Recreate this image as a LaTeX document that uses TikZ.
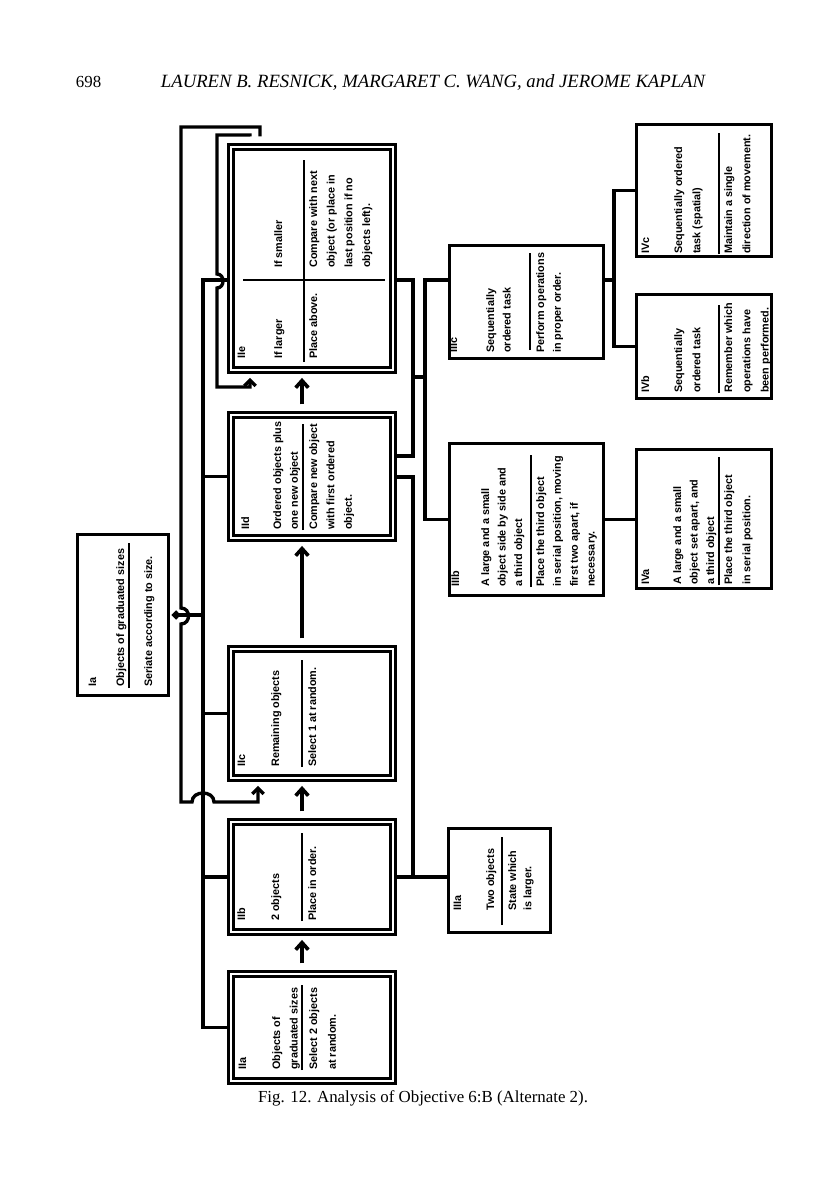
\documentclass[tikz,border=0pt]{standalone}
\usepackage{fontspec}
\setmainfont{Liberation Serif}
\setsansfont{Liberation Sans}
\usetikzlibrary{arrows.meta,fit}

% lines of box text, #1 = line distance
\newcommand{\lns}[2]{{\fontsize{7.7}{#1}\selectfont\begin{tabular}[t]{@{}l@{}}#2\end{tabular}}}

\tikzset{
  dbox/.style={draw, double, line width=2pt, double distance=1.4pt, inner sep=0pt},
  sbox/.style={draw, line width=2.2pt, inner sep=0pt},
  conn/.style={line width=2.4pt},
  arr/.style={line width=2.6pt, -{Straight Barb[length=5pt,width=9pt]}, shorten <=6.5pt, shorten >=4.5pt},
  looparr/.style={conn, -{Straight Barb[length=4pt,width=8pt]}},
  txt/.style={rotate=90, anchor=base west, inner sep=0pt, font=\sffamily\bfseries\fontsize{7.7}{10}\selectfont},
  rl/.style={line width=1.5pt},
}

\begin{document}
\begin{tikzpicture}[x=0.025cm, y=-0.025cm]
  \useasboundingbox (0,0) rectangle (816,1195);

  % header and caption
  \node[anchor=base west, font=\fontsize{12}{14}\selectfont] (pgno) at (71,88) {698};
  \node[anchor=base west, font=\fontsize{13.3}{15}\selectfont\itshape] (auth) at (156,88)
    {LAUREN B. RESNICK, MARGARET C. WANG, and JEROME KAPLAN};
  \node[anchor=base, font=\fontsize{12}{14}\selectfont] (capt) at (423,1102)
    {Fig. 12. Analysis of Objective 6:B (Alternate 2).};

  % boxes
  \node[sbox, fit={(77.5,534.5) (168.5,695.5)}] (ia) {};
  \node[dbox, fit={(230.8,973.8) (393.2,1081.2)}] (iia) {};
  \node[dbox, fit={(230.8,821.8) (393.2,932.2)}] (iib) {};
  \node[dbox, fit={(230.8,648.8) (393.2,778.2)}] (iic) {};
  \node[dbox, fit={(230.8,414.8) (393.2,538.2)}] (iid) {};
  \node[dbox, fit={(230.8,146.8) (393.2,370.2)}] (iie) {};
  \node[sbox, fit={(448.5,828.5) (550.5,932.5)}] (iiia) {};
  \node[sbox, fit={(449.5,443.5) (603.5,595.5)}] (iiib) {};
  \node[sbox, fit={(449.5,245.5) (603.5,358.5)}] (iiic) {};
  \node[sbox, fit={(636.5,449.5) (771.5,588.5)}] (iva) {};
  \node[sbox, fit={(636.5,294.5) (771.5,398.5)}] (ivb) {};
  \node[sbox, fit={(636.5,124.5) (771.5,256.5)}] (ivc) {};

  % Ia
  \node[txt] (ia-l) at (96,687) {Ia};
  \node[txt] (ia-g) at (124,687) {Objects of graduated sizes};
  \draw[rl] (129,688) -- (129,543);
  \node[txt] (ia-t) at (152,687) {Seriate according to size.};

  % IIa
  \node[txt] (iia-l) at (246,1070) {IIa};
  \node[txt] (iia-g) at (280,1070) {\lns{12.6}{Objects of\\graduated sizes}};
  \draw[rl] (302,1070) -- (302,985);
  \node[txt] (iia-t) at (317,1070) {\lns{13.4}{Select 2 objects\\at random.}};

  % IIb
  \node[txt] (iib-l) at (245,921) {IIb};
  \node[txt] (iib-g) at (279,921) {2 objects};
  \draw[rl] (302,921) -- (302,833);
  \node[txt] (iib-t) at (316,921) {Place in order.};

  % IIc
  \node[txt] (iic-l) at (245,767) {IIc};
  \node[txt] (iic-g) at (279,767) {Remaining objects};
  \draw[rl] (302,767) -- (302,660);
  \node[txt] (iic-t) at (316,767) {Select 1 at random.};

  % IId
  \node[txt] (iid-l) at (249,530) {IId};
  \node[txt] (iid-g) at (281,530) {\lns{12}{Ordered objects plus\\one new object}};
  \draw[rl] (303,530) -- (303,424);
  \node[txt] (iid-t) at (317,530) {\lns{12.4}{Compare new object\\with first ordered\\object.}};

  % IIe
  \node[txt] (iie-l) at (245,359) {IIe};
  \node[txt] (iie-a) at (282,359) {If larger};
  \node[txt] (iie-b) at (282,268) {If smaller};
  \draw[rl] (304,362) -- (304,160);
  \draw[rl] (243,280) -- (385,280);
  \node[txt] (iie-c) at (317,359) {Place above.};
  \node[txt] (iie-d) at (317,268) {\lns{12.6}{Compare with next\\object (or place in\\last position if no\\objects left).}};

  % IIIa
  \node[txt] (iiia-l) at (461,911) {IIIa};
  \node[txt] (iiia-g) at (494,911) {Two objects};
  \draw[rl] (502,925) -- (502,837);
  \node[txt] (iiia-t) at (516,911) {\lns{11}{State which\\is larger.}};

  % IIIb
  \node[txt] (iiib-l) at (459,587) {IIIb};
  \node[txt] (iiib-g) at (489,587) {\lns{11.8}{A large and a small\\object side by side and\\a third object}};
  \draw[rl] (531,587) -- (531,455);
  \node[txt] (iiib-t) at (544,587) {\lns{12}{Place the third object\\in serial position, moving\\first two apart, if\\necessary.}};

  % IIIc
  \node[txt] (iiic-l) at (457,353) {IIIc};
  \node[txt] (iiic-g) at (494,353) {\lns{11.8}{Sequentially\\ordered task}};
  \draw[rl] (530,350) -- (530,253);
  \node[txt] (iiic-t) at (544,353) {\lns{12}{Perform operations\\in proper order.}};

  % IVa
  \node[txt] (iva-l) at (649,585) {IVa};
  \node[txt] (iva-g) at (681,585) {\lns{11.8}{A large and a small\\object set apart, and\\a third object}};
  \draw[rl] (719,585) -- (719,457);
  \node[txt] (iva-t) at (732,585) {\lns{13}{Place the third object\\in serial position.}};

  % IVb
  \node[txt] (ivb-l) at (649,393) {IVb};
  \node[txt] (ivb-g) at (682,393) {\lns{13}{Sequentially\\ordered task}};
  \draw[rl] (719,393) -- (719,305);
  \node[txt] (ivb-t) at (732,393) {\lns{13}{Remember which\\operations have\\been performed.}};

  % IVc
  \node[txt] (ivc-l) at (649,254) {IVc};
  \node[txt] (ivc-g) at (682,254) {\lns{13}{Sequentially ordered\\task (spatial)}};
  \draw[rl] (719,254) -- (719,133);
  \node[txt] (ivc-t) at (732,254) {\lns{13}{Maintain a single\\direction of movement.}};

  % bus positions
  \coordinate (busl) at (203,0);
  \coordinate (outl) at (181,0);
  \coordinate (busr) at (413,0);
  \coordinate (busm) at (425,0);
  \coordinate (busiv) at (614,0);
  \coordinate (lvl) at (0,280);
  \coordinate (ax) at (302,0);
  \coordinate (ot) at (260,127);
  \coordinate (it) at (250,135);
  \coordinate (ib) at (250,387);
  \coordinate (ret) at (258,802);
  \coordinate (dlo) at (0,456);
  \coordinate (dhi) at (0,477);
  \coordinate (tk) at (0,377);

  % arrows up the II column
  \draw[arr] (iia.north -| ax) -- (iib.south -| ax);
  \draw[arr] (iib.north -| ax) -- (iic.south -| ax);
  \draw[arr] (iic.north -| ax) -- (iid.south -| ax);
  \draw[arr] (iid.north -| ax) -- (iie.south -| ax);

  % left bus
  \draw[conn] (iie.west |- lvl) -- (busl |- lvl) -- (busl |- iia.west) -- (iia.west);
  \foreach \b in {iib,iic,iid}
    \draw[conn] (busl |- \b.west) -- (\b.west);
  \draw[conn, -{Straight Barb[length=2.5pt,width=5pt]}, shorten >=1pt] (busl |- ia.east) -- (ia.east);

  % loop back from IIe to IIc
  \draw[looparr, shorten <=6.5pt, shorten >=4.5pt] (iie.north -| ot) -- (ot) -- (outl |- ot)
    -- (181,608) .. controls (191,608) and (191,624) .. (181,624)
    -- (outl |- ret) -- (192,802) .. controls (192,790) and (214,790) .. (214,802)
    -- (ret) -- (iic.south -| ret);

  % loop back from IIe to IIe
  \draw[looparr, shorten <=6.5pt, shorten >=4.5pt] (iie.north -| it) -- (it) -- (217,135)
    -- (217,274) .. controls (225,274) and (225,288) .. (217,288)
    -- (217,387) -- (ib) -- (iie.south -| ib);

  % right side
  \draw[conn] (iie.east |- lvl) -- (busr |- lvl) -- (busr |- dlo) -- (iid.east |- dlo);
  \draw[conn] (iid.east |- dhi) -- (busr |- dhi) -- (busr |- iib.east) -- (iib.east);
  \draw[conn] (busr |- iib.east) -- (iiia.west |- iib.east);
  \draw[conn] (iiic.west |- lvl) -- (busm |- lvl) -- (busm |- iiib.west) -- (iiib.west);
  \draw[conn] (busr |- tk) -- (busm |- tk);

  % IV links
  \draw[conn] (iiic.east |- lvl) -- (busiv |- lvl);
  \draw[conn] (ivc.west) -- (busiv |- ivc.west) -- (busiv |- ivb.west) -- (ivb.west);
  \draw[conn] (iiib.east) -- (iva.west |- iiib.east);
\end{tikzpicture}
\end{document}
